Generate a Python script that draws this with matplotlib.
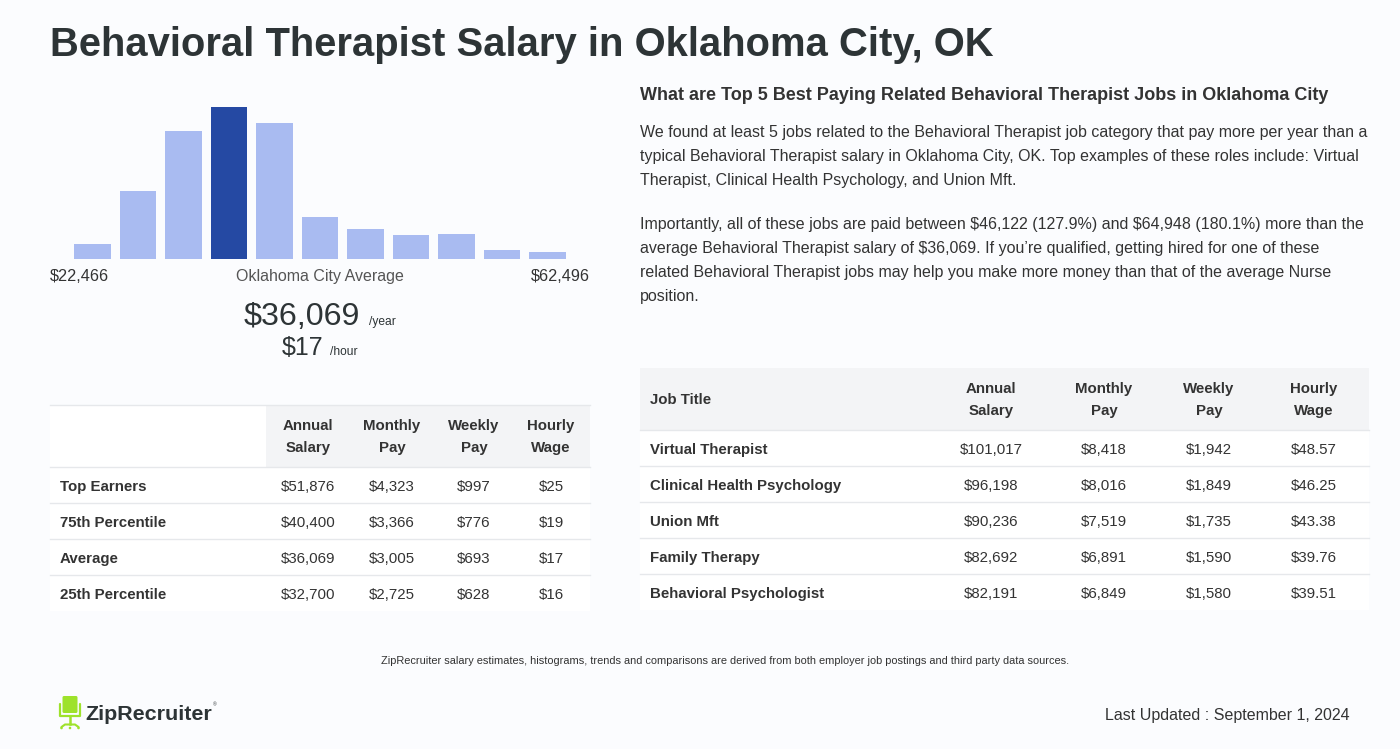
import matplotlib
matplotlib.use("Agg")
import matplotlib.pyplot as plt
from matplotlib.patches import Rectangle, FancyBboxPatch, Circle

plt.rcParams['font.family'] = ['Liberation Sans', 'DejaVu Sans']
plt.rcParams['text.parse_math'] = False

# histogram (relative bar heights)
hist_heights = [15, 68, 128, 152, 136, 42, 30, 24, 25, 9, 7]
hist_highlight = 3
hist_low = "$22,466"
hist_high = "$62,496"
avg_year = "$36,069"
avg_hour = "$17"

left_cols = ["Annual\nSalary", "Monthly\nPay", "Weekly\nPay", "Hourly\nWage"]
left_rows = ["Top Earners", "75th Percentile", "Average", "25th Percentile"]
left_vals = [
    ["$51,876", "$4,323", "$997", "$25"],
    ["$40,400", "$3,366", "$776", "$19"],
    ["$36,069", "$3,005", "$693", "$17"],
    ["$32,700", "$2,725", "$628", "$16"],
]

right_cols = ["Annual\nSalary", "Monthly\nPay", "Weekly\nPay", "Hourly\nWage"]
jobs = ["Virtual Therapist", "Clinical Health Psychology", "Union Mft",
        "Family Therapy", "Behavioral Psychologist"]
job_vals = [
    ["$101,017", "$8,418", "$1,942", "$48.57"],
    ["$96,198", "$8,016", "$1,849", "$46.25"],
    ["$90,236", "$7,519", "$1,735", "$43.38"],
    ["$82,692", "$6,891", "$1,590", "$39.76"],
    ["$82,191", "$6,849", "$1,580", "$39.51"],
]

para1 = ["We found at least 5 jobs related to the Behavioral Therapist job category that pay more per year than a",
         "typical Behavioral Therapist salary in Oklahoma City, OK. Top examples of these roles include: Virtual",
         "Therapist, Clinical Health Psychology, and Union Mft."]
para2 = ["Importantly, all of these jobs are paid between $46,122 (127.9%) and $64,948 (180.1%) more than the",
         "average Behavioral Therapist salary of $36,069. If you\u2019re qualified, getting hired for one of these",
         "related Behavioral Therapist jobs may help you make more money than that of the average Nurse",
         "position."]

W, H = 1400, 749
BG = "#fbfcfe"
DARK = "#2d3436"
TXT = "#333333"
LINE = "#e6e8eb"
HEAD = "#f3f4f6"

fig = plt.figure(figsize=(W / 100, H / 100), dpi=100, facecolor=BG)
bg = fig.add_axes([0, 0, 1, 1])
bg.set_xlim(0, W)
bg.set_ylim(H, 0)
bg.axis("off")
bg.set_facecolor(BG)


def txt(x, ymid, s, px, ha="left", color=TXT, bold=False):
    # place text so that the middle of its capitals sits at ymid (pixels)
    bg.text(x, ymid + 0.358 * px, s, fontsize=px * 0.72, ha=ha, va="baseline", color=color,
            fontweight="bold" if bold else "normal")


# title
bg.text(50, 45, "Behavioral Therapist Salary in Oklahoma City, OK", fontsize=40 * 0.72,
        fontweight="bold", color=DARK, va="center", ha="left")

# histogram
hx0, hx1, hy0, hy1 = 50, 590, 100, 259
hax = fig.add_axes([hx0 / W, 1 - hy1 / H, (hx1 - hx0) / W, (hy1 - hy0) / H])
hax.set_facecolor("none")
colors = ["#2549a3" if i == hist_highlight else "#a9bbf1" for i in range(len(hist_heights))]
hax.bar(range(len(hist_heights)), hist_heights, width=0.81, color=colors)
hax.set_xlim(-0.934, len(hist_heights) - 1 + 0.934)
hax.set_ylim(0, max(hist_heights) * (hy1 - hy0) / 152)
hax.axis("off")

txt(50, 275, hist_low, 16.3)
txt(320, 275, "Oklahoma City Average", 16, ha="center", color="#555555")
txt(590, 275, hist_high, 16.3, ha="right")
txt(360, 313, avg_year, 32.3, ha="right", color=DARK)
bg.text(369, 325, "/year", fontsize=12 * 0.72, color=DARK, ha="left", va="baseline")
txt(323, 346, avg_hour, 25, ha="right", color=DARK)
bg.text(330, 355, "/hour", fontsize=12 * 0.72, color=DARK, ha="left", va="baseline")

# left table
bg.add_patch(Rectangle((50, 405), 540, 206, facecolor="white", edgecolor="none"))
bg.add_patch(Rectangle((266, 405), 324, 62, facecolor=HEAD, edgecolor="none"))
bg.plot([50, 590], [405, 405], color=LINE, lw=1)
lcx = [308, 392, 474, 551]
for c, x in zip(left_cols, lcx):
    for k, part in enumerate(c.split("\n")):
        txt(x, 425 + 22 * k, part, 15, ha="center", bold=True)
for i, (r, vals) in enumerate(zip(left_rows, left_vals)):
    y0 = 467 + 36 * i
    bg.plot([50, 590], [y0, y0], color=LINE, lw=1)
    txt(60, y0 + 18.5, r, 15, bold=True)
    for v, x in zip(vals, lcx):
        txt(x, y0 + 18.5, v, 15, ha="center")

# right side text
txt(640, 94, "What are Top 5 Best Paying Related Behavioral Therapist Jobs in Oklahoma City", 18, bold=True)
for i, line in enumerate(para1):
    txt(640, 131 + 24 * i, line, 16)
for i, line in enumerate(para2):
    txt(640, 223 + 24 * i, line, 16)

# right table
bg.add_patch(Rectangle((640, 368), 729, 242, facecolor="white", edgecolor="none"))
bg.add_patch(Rectangle((640, 368), 729, 62, facecolor=HEAD, edgecolor="none"))
rcx = [991, 1104, 1209, 1314]
txt(650, 399, "Job Title", 15, bold=True)
for c, x in zip(right_cols, rcx):
    for k, part in enumerate(c.split("\n")):
        txt(x, 388 + 22 * k, part, 15, ha="center", bold=True)
for i, (j, vals) in enumerate(zip(jobs, job_vals)):
    y0 = 430 + 36 * i
    bg.plot([640, 1369], [y0, y0], color=LINE, lw=1)
    txt(650, y0 + 18.5, j, 15, bold=True)
    for v, x in zip(vals, rcx):
        txt(x, y0 + 18.5, v, 15, ha="center")

# footer
txt(725, 660, "ZipRecruiter salary estimates, histograms, trends and comparisons are derived from both "
    "employer job postings and third party data sources.", 11, ha="center")
txt(1350, 714, "Last Updated : September 1, 2024", 16, ha="right")

# logo: chair + wordmark
GREEN = "#9ee22b"
bg.add_patch(FancyBboxPatch((62.5, 696), 15, 17, boxstyle="round,pad=0,rounding_size=1.5",
                            facecolor=GREEN, edgecolor="none"))
bg.plot([60, 60, 80, 80], [704, 716, 716, 704], color=GREEN, lw=1.6, solid_capstyle="round")
bg.plot([70, 70], [716, 724], color=GREEN, lw=1.8)
bg.plot([61.5, 65, 75, 78.5], [727, 724.5, 724.5, 727], color=GREEN, lw=1.5, solid_capstyle="round")
for cx in (61.5, 70, 78.5):
    bg.add_patch(Circle((cx, 728), 1.3, facecolor=GREEN, edgecolor="none"))
txt(85, 712, "ZipRecruiter", 21.5, color=DARK, bold=True)
bg.text(213, 705, "\u00ae", fontsize=5 * 0.72, color=DARK, ha="left", va="center")

fig.savefig("out.png", dpi=100, facecolor=BG)
